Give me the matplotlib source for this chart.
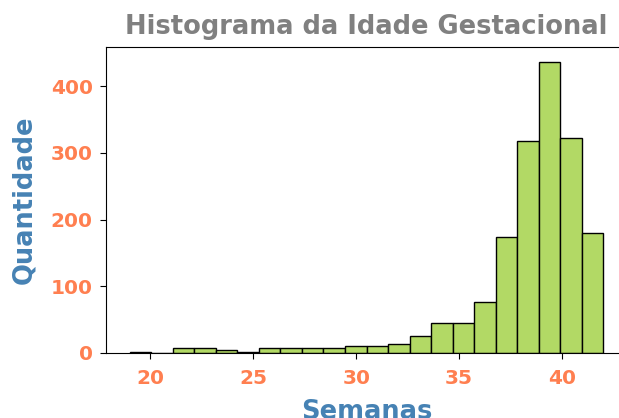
import numpy as np
import matplotlib
matplotlib.use('Agg')
import matplotlib.pyplot as plt

# semanas de gestação: limites do histograma (22 classes entre 19 e 42)
semana_min = 19
semana_max = 42
n_classes = 22

# quantidade de nascimentos em cada classe
quantidade = [2, 0, 8, 8, 5, 2, 7, 7, 7, 7, 10, 10, 14, 25,
              45, 45, 76, 174, 318, 437, 323, 180]

bordas = np.linspace(semana_min, semana_max, n_classes + 1)
centros = (bordas[:-1] + bordas[1:]) / 2

fig = plt.figure(figsize=(6.19, 4.18), dpi=100)
ax = fig.add_axes([106 / 619, 1 - 353 / 418, 521 / 619, 306 / 418])

ax.hist(centros, bins=bordas, weights=quantidade,
        color='#b2d965', edgecolor='black', linewidth=1.0)

ax.set_title('Histograma da Idade Gestacional', fontsize=18.5,
             fontweight='bold', color='gray', pad=9)
ax.set_xlabel('Semanas', fontsize=18.5, fontweight='bold', color='steelblue',
              labelpad=8)
ax.set_ylabel('Quantidade', fontsize=18.5, fontweight='bold', color='steelblue',
              labelpad=10)

ax.set_xticks([20, 25, 30, 35, 40])
ax.set_yticks([0, 100, 200, 300, 400])
ax.tick_params(labelsize=14.5, labelcolor='coral', length=4.5, pad=5)
ax.tick_params(axis='x', pad=7)
for lbl in ax.get_xticklabels() + ax.get_yticklabels():
    lbl.set_fontweight('bold')

fig.savefig('out.png', dpi=100)
